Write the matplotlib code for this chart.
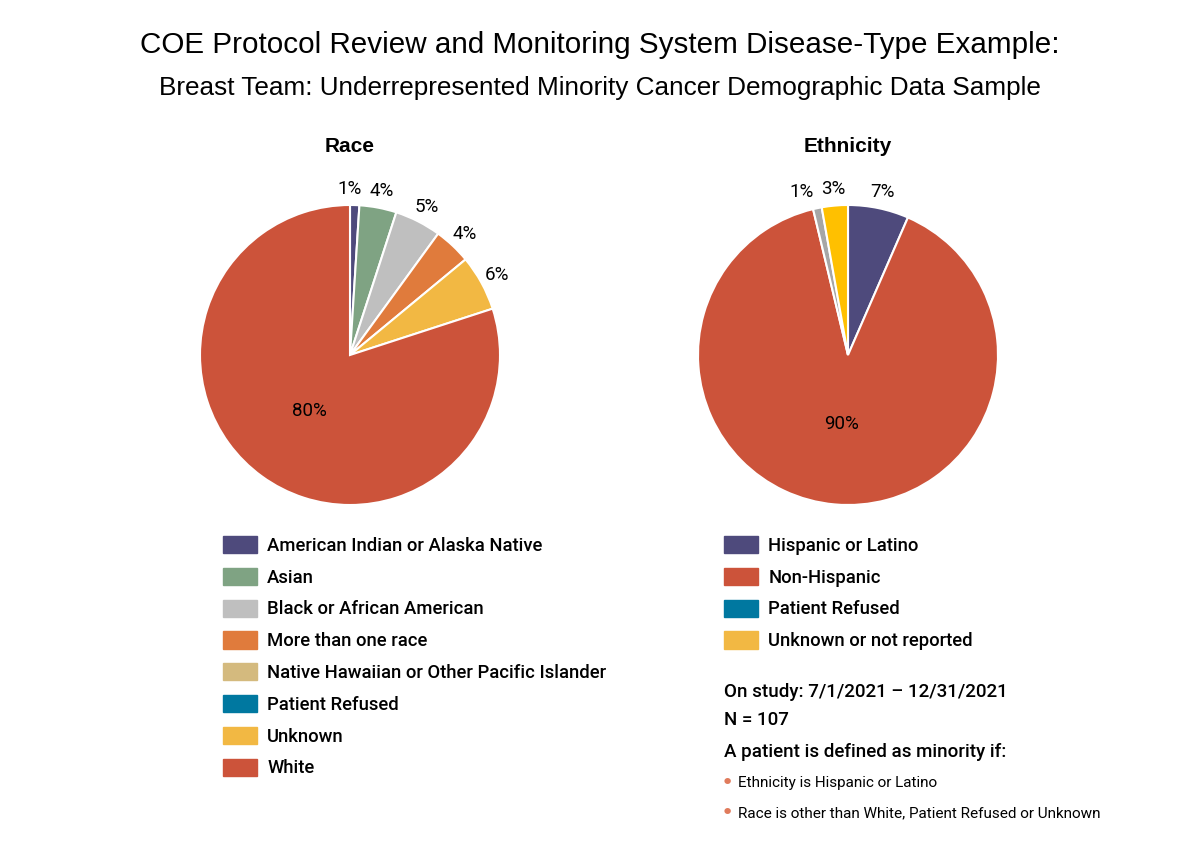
import numpy as np
import matplotlib.pyplot as plt
from matplotlib.patches import Patch

# Données
race_labels = [
    "American Indian or Alaska Native",
    "Asian",
    "Black or African American",
    "More than one race",
    "Native Hawaiian or Other Pacific Islander",
    "Patient Refused",
    "Unknown",
    "White",
]
race_values = [1, 4, 5, 4, 0, 0, 6, 80]
race_colors = ["#4e4a7c", "#7fa383", "#bfbfbf", "#e07b3c",
               "#d4ba7e", "#0078a0", "#f2b843", "#cc533a"]

eth_labels = ["Hispanic or Latino", "Non-Hispanic", "Patient Refused",
              "Unknown or not reported"]
eth_values = [7, 96, 1, 3]
eth_pie_colors = ["#4e4a7c", "#cc533a", "#a6a6a6", "#ffc000"]
eth_legend_colors = ["#4e4a7c", "#cc533a", "#0078a0", "#f2b843"]

notes = ["On study: 7/1/2021 \u2013 12/31/2021", "N = 107",
         "A patient is defined as minority if:"]
bullets = ["Ethnicity is Hispanic or Latino",
           "Race is other than White, Patient Refused or Unknown"]

plt.rcParams["font.family"] = ["Roboto", "DejaVu Sans"]
title_font = ["Liberation Sans", "DejaVu Sans"]

fig = plt.figure(figsize=(12, 8.5), dpi=100)

fig.text(0.5, 1 - 45 / 850, "COE Protocol Review and Monitoring System Disease-Type Example:",
         ha="center", va="center", fontsize=21.3, family=title_font)
fig.text(0.5, 1 - 88 / 850, "Breast Team: Underrepresented Minority Cancer Demographic Data Sample",
         ha="center", va="center", fontsize=18.8, family=title_font)


def draw_pie(cx, title, values, colors):
    ax = fig.add_axes([(cx - 150) / 1200, 345 / 850, 300 / 1200, 300 / 850])
    vals = np.array(values, dtype=float)
    keep = vals > 0
    wedges, _ = ax.pie(vals[keep], colors=np.array(colors)[keep], startangle=90,
                       counterclock=False,
                       wedgeprops=dict(edgecolor="white", linewidth=1.5))
    total = vals.sum()
    outer = []
    for w, v in zip(wedges, vals[keep]):
        pct = 100 * v / total
        ang = np.deg2rad((w.theta1 + w.theta2) / 2)
        if pct > 20:
            ax.text(0.46 * np.cos(ang), 0.46 * np.sin(ang), "%.0f%%" % pct,
                    ha="center", va="center", fontsize=13.5)
        else:
            outer.append([1.12 * np.cos(ang), 1.11 * np.sin(ang), "%.0f%%" % pct])
    # écarter les étiquettes trop proches
    outer.sort(key=lambda o: o[0])
    for i in range(len(outer) - 2, -1, -1):
        if outer[i + 1][0] - outer[i][0] < 0.21 and abs(outer[i + 1][1] - outer[i][1]) < 0.12:
            outer[i][0] = outer[i + 1][0] - 0.21
    for x, y, s in outer:
        ax.text(x, y, s, ha="center", va="center", fontsize=13.5)
    ax.set_xlim(-1, 1)
    ax.set_ylim(-1, 1)
    ax.set_aspect("equal")
    fig.text(cx / 1200, 1 - 147 / 850, title, ha="center", va="center",
             fontsize=15, fontweight="bold", family=title_font)
    return ax


draw_pie(350, "Race", race_values, race_colors)
draw_pie(848, "Ethnicity", eth_values, eth_pie_colors)

leg_kw = dict(frameon=False, prop=dict(size=13.3, weight="medium"), handlelength=1.85,
              handleheight=1.05, handletextpad=0.55, labelspacing=0.7, borderpad=0,
              borderaxespad=0, loc="upper left")
fig.legend(handles=[Patch(color=c, label=l) for c, l in zip(race_colors, race_labels)],
           bbox_to_anchor=(223 / 1200, 1 - 536 / 850), **leg_kw)
fig.legend(handles=[Patch(color=c, label=l) for c, l in zip(eth_legend_colors, eth_labels)],
           bbox_to_anchor=(724 / 1200, 1 - 536 / 850), **leg_kw)

for y, t in zip([692, 720, 752], notes):
    fig.text(724 / 1200, 1 - y / 850, t, ha="left", va="center", fontsize=13.5,
             fontweight="medium")
for y, t in zip([783, 813], bullets):
    fig.text(721 / 1200, 1 - y / 850, "\u2022", ha="left", va="center",
             fontsize=16, color="#e07b5c", family=["DejaVu Sans"])
    fig.text(738 / 1200, 1 - y / 850, t, ha="left", va="center", fontsize=11)

fig.savefig("out.png", dpi=100)
